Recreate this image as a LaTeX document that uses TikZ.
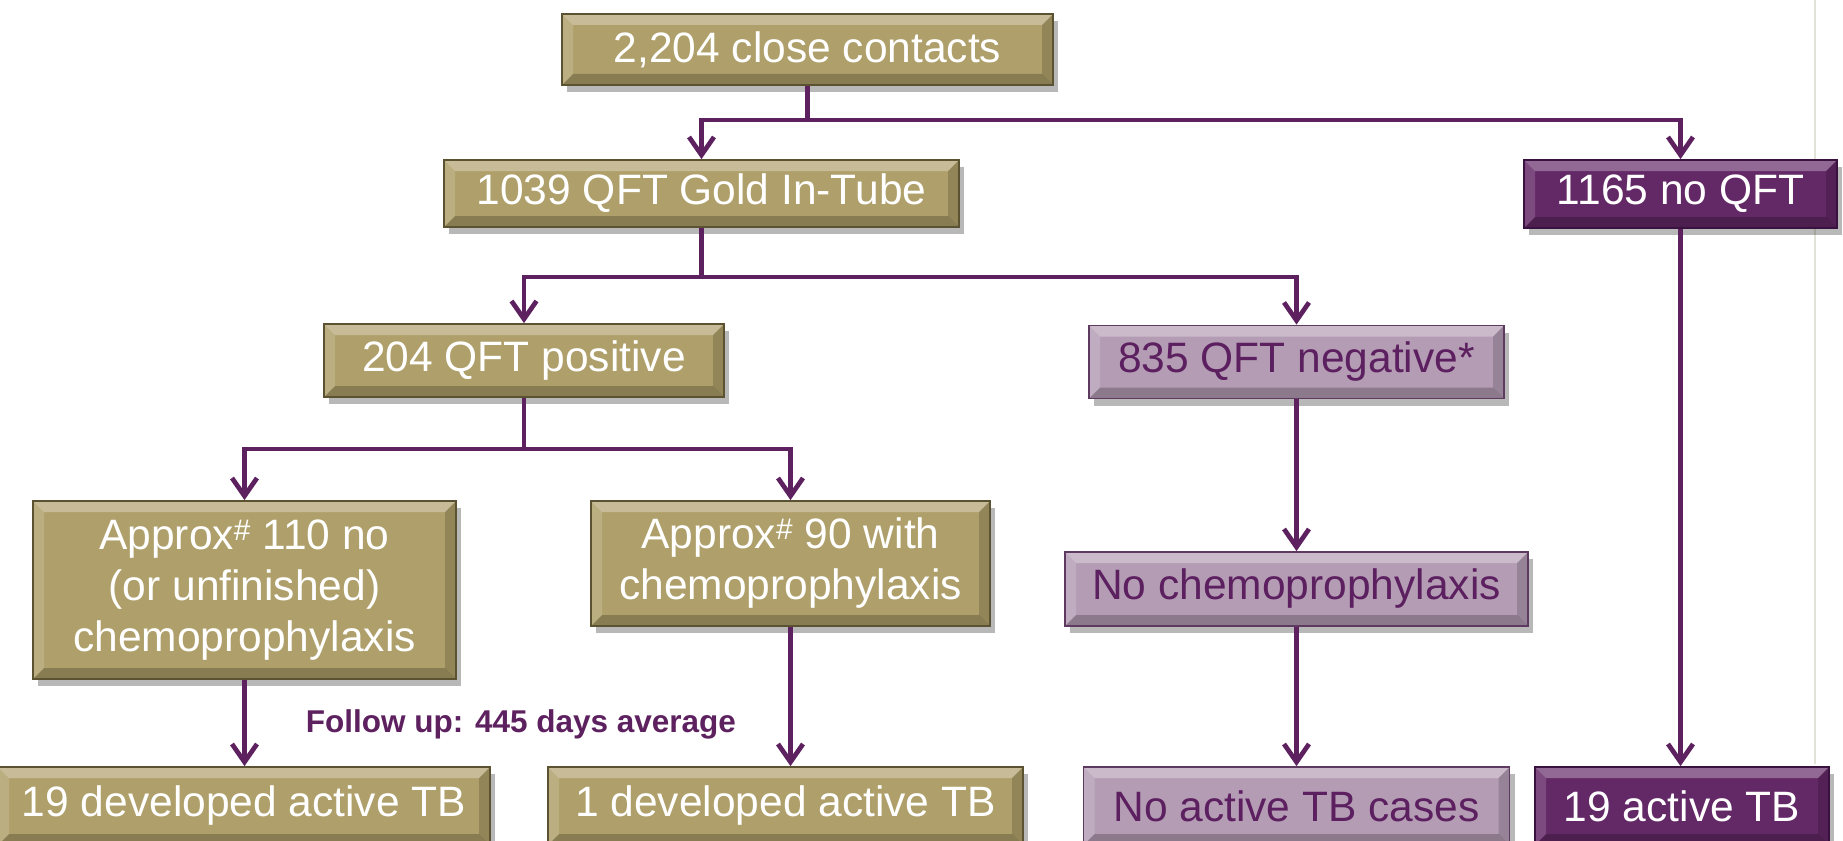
\documentclass[tikz,border=0pt]{standalone}
\usepackage{fontspec}
\setmainfont{Liberation Sans}
\usetikzlibrary{arrows.meta,shadows,calc}
\definecolor{gold}{HTML}{AFA06B}
\definecolor{golddark}{HTML}{5A5230}
\definecolor{dpurple}{HTML}{632866}
\definecolor{dpurpleborder}{HTML}{3A1240}
\definecolor{lpurple}{HTML}{B49DB4}
\definecolor{lpurpleborder}{HTML}{5E3A60}
\definecolor{ptext}{HTML}{5C1F5F}
\definecolor{linec}{HTML}{5E2160}
\definecolor{edgegray}{HTML}{E2E2D8}
\tikzset{
  bevel/.style={path picture={
    \fill[white,opacity=0.30] (path picture bounding box.north west) -- (path picture bounding box.north east)
      -- ([shift={(-11pt,-11pt)}]path picture bounding box.north east) -- ([shift={(11pt,-11pt)}]path picture bounding box.north west) -- cycle;
    \fill[white,opacity=0.16] (path picture bounding box.north west) -- ([shift={(11pt,-11pt)}]path picture bounding box.north west)
      -- ([shift={(11pt,11pt)}]path picture bounding box.south west) -- (path picture bounding box.south west) -- cycle;
    \fill[black,opacity=0.22] (path picture bounding box.south west) -- ([shift={(11pt,11pt)}]path picture bounding box.south west)
      -- ([shift={(-11pt,11pt)}]path picture bounding box.south east) -- (path picture bounding box.south east) -- cycle;
    \fill[black,opacity=0.16] (path picture bounding box.south east) -- ([shift={(-11pt,11pt)}]path picture bounding box.south east)
      -- ([shift={(-11pt,-11pt)}]path picture bounding box.north east) -- (path picture bounding box.north east) -- cycle;
  }},
  box/.style={bevel, rectangle, inner sep=0pt, align=center, line width=1.8pt,
    font=\fontsize{42.5}{51}\selectfont,
    drop shadow={shadow xshift=5pt, shadow yshift=-7pt, fill=black, opacity=0.28}},
  goldbox/.style={box, fill=gold, draw=golddark, text=white},
  darkbox/.style={box, fill=dpurple, draw=dpurpleborder, text=white},
  lightbox/.style={box, fill=lpurple, draw=lpurpleborder, text=ptext},
  conn/.style={draw=linec, line width=4.7pt},
  arr/.style={conn, -{Straight Barb[length=18pt,width=25pt,line width=4.7pt]}},
}
\begin{document}
\begin{tikzpicture}[x=1pt,y=-1pt]
\fill[white] (0,0) rectangle (1843,840);
\useasboundingbox (0,0) rectangle (1843,840);
\draw[edgegray, line width=1.5pt] (1815,0) -- (1815,764);

\node[goldbox, minimum width=491pt, minimum height=71pt] (b1) at (807.5,49.5) {2,204 close contacts};
\node[goldbox, minimum width=515pt, minimum height=67pt] (b2) at (701.5,193.5) {1039 QFT Gold In-Tube};
\node[darkbox, minimum width=313pt, minimum height=68pt] (b3) at (1680.5,194) {1165 no QFT};
\node[goldbox, minimum width=400pt, minimum height=73pt] (b4) at (524,360.5) {204 QFT positive};
\node[lightbox, minimum width=415pt, minimum height=73pt] (b5) at (1296.5,362) {835 QFT negative*};
\node[goldbox, minimum width=423pt, minimum height=178pt] (b6) at (244.5,590) {Approx\textsuperscript{\#} 110 no\\(or unfinished)\\chemoprophylaxis};
\node[goldbox, minimum width=399pt, minimum height=125pt] (b7) at (790.5,563.5) {Approx\textsuperscript{\#} 90 with\\chemoprophylaxis};
\node[lightbox, minimum width=463pt, minimum height=74pt] (b10) at (1296.5,589) {No chemoprophylaxis};
\node[goldbox, minimum width=492pt, minimum height=78pt] (b8) at (244,806) {19 developed active TB};
\node[goldbox, minimum width=475pt, minimum height=78pt] (b9) at (785.5,806) {1 developed active TB};
\node[lightbox, minimum width=426pt, minimum height=78pt] (b11) at (1296.5,806) {No active TB cases};
\node[darkbox, minimum width=294pt, minimum height=78pt] (b12) at (1682,806) {19 active TB};

\node[font=\bfseries\fontsize{31.5}{36}\selectfont, text=linec] (fu) at (521,724) {Follow up: 445 days average};

\coordinate (j1) at (807.5,120);
\coordinate (j2) at (701.5,277);
\coordinate (j3) at (524,449);

\draw[conn] (b1.south) -- (j1);
\draw[arr] (j1) -| (b2.north);
\draw[arr] (j1) -| (b3.north);
\draw[conn] (b2.south) -- (j2);
\draw[arr] (j2) -| (b4.north);
\draw[arr] (j2) -| (b5.north);
\draw[conn] (b4.south) -- (j3);
\draw[arr] (j3) -| (b6.north);
\draw[arr] (j3) -| (b7.north);
\draw[arr] (b6.south) -- (b6.south |- b8.north);
\draw[arr] (b7.south) -- (b7.south |- b9.north);
\draw[arr] (b5.south) -- (b10.north);
\draw[arr] (b10.south) -- (b10.south |- b11.north);
\draw[arr] (b3.south) -- (b3.south |- b12.north);
\end{tikzpicture}
\end{document}
